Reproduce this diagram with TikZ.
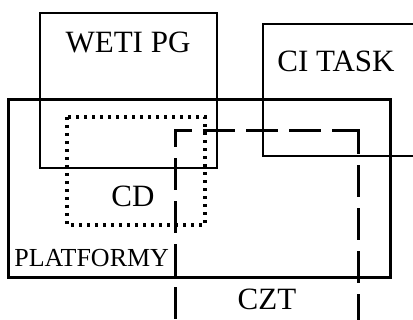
\documentclass[tikz,border=0pt]{standalone}
\usepackage{fontspec}
\setmainfont{Liberation Serif}
\tikzset{
    area/.style = {
        draw,
        line width=0.75pt,
        },
    platform area/.style = {
        draw,
        line width=1.5pt,
        },
    cd area/.style = {
        draw,
        line width=1.6pt,
        dash pattern=on 1.6pt off 2.4pt,
        },
    czt area/.style = {
        draw,
        line width=1.5pt,
        line cap=rect,
        dash pattern=on 14.5pt off 7pt,
        },
    label/.style = {
        font=\fontsize{15.5}{18}\selectfont,
        inner sep=0pt,
        anchor=base,
        },
    small label/.style = {
        font=\fontsize{13}{15}\selectfont,
        inner sep=0pt,
        anchor=base west,
        },
}

\begin{document}
\begin{tikzpicture}[x=0.5pt, y=-0.5pt]
            \useasboundingbox[fill=white] (0,0) rectangle (413,320);

            % boxes
            \draw[area] (40,13) rectangle (217,168);
            \draw[area] (413,24) -- (263,24) -- (263,156) -- (413,156);
            \draw[platform area] (8,100) rectangle (390,278);
            \draw[cd area] (67,117) rectangle (205,225);
            \coordinate (czt nw) at (175,131);
            \coordinate (czt ne) at (358,131);
            \draw[czt area, dash phase=7pt] (czt nw) -- (175,320);
            \draw[czt area, dash phase=7pt] (czt nw) -- (czt ne);
            \draw[czt area, dash phase=3.5pt] (czt ne) -- (358,320);

            % labels
            \node[label] (weti) at (128,53) {WETI PG};
            \node[label] (citask) at (336,72) {CI TASK};
            \node[label] (cd) at (133,207) {CD};
            \node[small label] (platformy) at (14,267) {PLATFORMY};
            \node[label] (czt) at (267,310) {CZT};
        \end{tikzpicture}
\end{document}
